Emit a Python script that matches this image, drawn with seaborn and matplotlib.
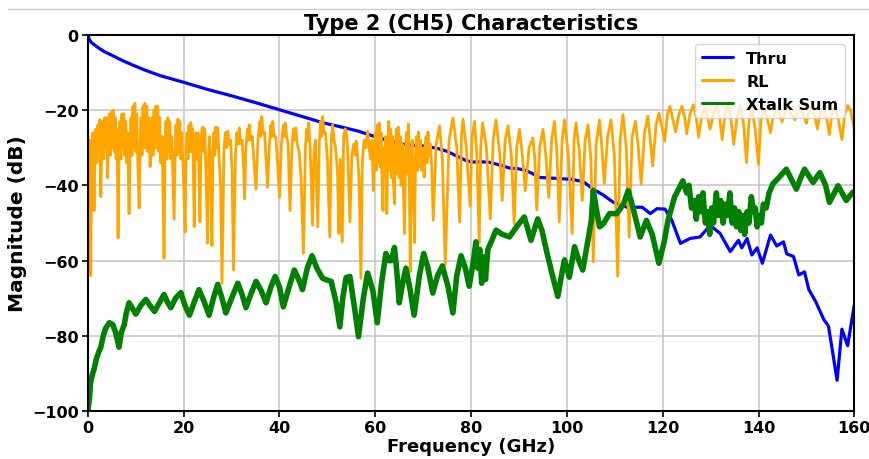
import matplotlib
matplotlib.use("Agg")
import matplotlib.pyplot as plt
import seaborn as sns
from matplotlib.lines import Line2D

# values (GHz, dB)
thru_freq = [0, 0.3, 0.7, 1.5, 2.5, 3.5, 5.0, 7.0, 9.5, 12, 15, 20, 25, 30, 35, 40, 45,
             49.2, 53.3, 56.5, 59.6, 63, 65.9, 68, 70.7, 73, 74.9, 77, 79.1, 80.5, 82,
             84, 86, 88.1, 90, 91.6, 93, 94.4, 96, 98.6, 101, 103.4, 105.5, 107.5, 109.7,
             112.5, 115.7, 117.4, 118.8, 120.5, 121.9, 123.7, 125.7, 127.8, 129.9, 132,
             134.1, 135.8, 136.5, 137.6, 138.6, 139.7, 140.8, 142.5, 143.8, 145.2, 145.9,
             147.3, 148.4, 149.6, 150.5, 151.9, 153.6, 154.6, 156.4, 157.4, 158.6, 160]
thru_db = [0, -1.2, -2, -2.8, -3.7, -4.5, -5.4, -6.7, -8.1, -9.4, -10.8, -12.6, -14.5,
           -16.2, -18, -19.9, -21.8, -23.4, -24.6, -25.6, -26.9, -28.2, -29.1, -29.4,
           -29.6, -30.2, -30.9, -32.2, -33.5, -33.8, -33.7, -33.9, -34.6, -35.4, -35.6,
           -36.1, -37, -37.9, -38, -38.2, -38.4, -39, -41, -42.5, -44.5, -45.8, -45.8,
           -47.5, -46.2, -46.3, -49.3, -55.4, -54.1, -53.7, -50.6, -52.8, -57.6, -54.6,
           -56.6, -54.1, -58.5, -56.6, -60.7, -53.2, -56.1, -55, -58.2, -58.9, -63.8,
           -63, -67.7, -70.8, -75.6, -77.4, -91.8, -78.2, -82.6, -71.7]

# RL, 0-28 GHz (dense ripple)
rl_freq_a = [0.0, 0.2, 0.4, 0.6, 0.8, 1.0, 1.3, 1.5, 1.7, 1.9, 2.1, 2.3, 2.5, 2.7, 2.9,
             3.1, 3.3, 3.5, 3.7, 3.9, 4.1, 4.3, 4.5, 4.7, 4.9, 5.1, 5.3, 5.5, 5.7, 5.9,
             6.1, 6.3, 6.5, 6.7, 6.9, 7.1, 7.3, 7.5, 7.7, 7.9, 8.1, 8.3, 8.6, 8.8, 9.0,
             9.2, 9.4, 9.6, 9.8, 10.0, 10.2, 10.4, 10.7, 10.9, 11.1, 11.3, 11.5, 11.7,
             11.9, 12.1, 12.3, 12.5, 12.7, 13.0, 13.2, 13.4, 13.6, 13.8, 14.0, 14.2,
             14.4, 14.6, 14.8, 15.0, 15.2, 15.5, 15.9, 16.1, 16.3, 16.5, 16.7, 16.9,
             17.1, 17.3, 17.5, 17.7, 18.0, 18.2, 18.4, 18.6, 18.8, 19.0, 19.2, 19.4,
             19.6, 19.9, 20.3, 20.5, 20.7, 20.9, 21.1, 21.3, 21.5, 21.7, 21.9, 22.2,
             22.4, 22.6, 22.8, 23.0, 23.4, 23.6, 23.8, 24.0, 24.2, 24.4, 24.6, 25.0,
             25.2, 25.4, 25.6, 25.9, 26.1, 26.3, 26.5, 26.7, 26.9, 27.1, 27.4, 27.7]
rl_db_a = [-25, -36, -28, -64, -33, -26, -46.7, -30, -25, -34, -24, -31, -22.5, -43, -30,
           -23, -33, -22, -30, -22, -38, -28, -21, -32, -20.5, -30, -20, -31, -22, -33,
           -25, -54, -30, -23, -33, -21, -30, -21, -32, -23, -34, -26, -47.5, -31, -22,
           -32, -19, -30, -18.2, -31, -21, -33, -46, -30, -22, -32, -19, -30,
           -18.2, -30, -19, -31, -22, -35, -28, -22, -32, -20, -30, -19,
           -30, -19, -31, -22, -34, -27, -59.4, -30, -23, -33, -22, -31,
           -23, -33, -27, -36, -49, -31, -24, -32, -22.4, -31, -23, -33,
           -26, -36, -52.4, -32, -26, -33, -24, -31, -23.3, -31, -25, -51,
           -31, -26, -33, -26, -49.7, -30, -25, -24.5, -31, -25, -34, -55.4,
           -32, -27, -34, -56, -31, -26, -32, -24.5, -30, -24.7, -33, -40]

# RL, 28-59 GHz
rl_freq_b = [28.0, 28.4, 28.7, 29.0, 29.2, 29.5, 29.8, 30.1, 30.4, 30.8, 31.1, 31.4, 31.6,
             31.9, 32.2, 32.5, 32.7, 33.0, 33.3, 33.5, 33.7, 34.0, 34.3, 34.7, 35.1, 35.5,
             35.9, 36.1, 36.3, 36.6, 36.9, 37.2, 37.5, 37.9, 38.2, 38.4, 38.6, 38.9, 39.2,
             39.6, 40.0, 40.4, 40.8, 41.0, 41.2, 41.5, 41.8, 42.2, 42.6, 42.9, 43.1, 43.4,
             43.7, 44.1, 44.5, 45.0, 45.4, 45.7, 45.9, 46.1, 46.4, 46.9, 47.2, 47.5, 48.0,
             48.3, 48.6, 48.8, 49.0, 49.3, 49.6, 50.0, 50.5, 50.8, 51.1, 51.4, 51.7, 52.1,
             52.4, 52.7, 53.1, 53.4, 53.7, 53.9, 54.2, 54.7, 55.1, 55.5, 55.8, 56.0, 56.3,
             56.6, 57.0, 57.3, 57.7, 58.0, 58.4, 58.7]
rl_db_b = [-66, -31, -26, -30, -25.6, -29, -28, -36, -62.5, -32, -26, -29, -24.7,
           -29, -28, -35, -43.6, -30, -25, -28, -23.9, -28, -27, -34, -41, -28,
           -23, -27, -21.7, -26, -26, -33, -40.5, -29, -24, -27, -23, -27, -27,
           -34, -43.2, -29, -24, -27, -23.4, -27, -29, -46.7, -30, -25, -28, -24.7,
           -29, -31, -38, -58.1, -30, -25, -28, -23.4, -30, -50.6, -31, -28, -51,
           -29, -23, -27, -21.7, -26, -26, -33, -53.7, -28, -23.9, -28, -30, -36,
           -52.8, -33, -55, -27, -25, -25.3, -30, -49.7, -32, -29, -32, -28.2, -32,
           -38, -64.7, -33, -28, -30, -25.6, -30]

# RL, 59-72 GHz (dense ripple)
rl_freq_c = [59.0, 59.3, 59.6, 59.8, 60.0, 60.2, 60.4, 60.6, 60.8, 61.0, 61.2, 61.4, 61.6,
             61.8, 62.0, 62.2, 62.4, 62.6, 62.8, 63.0, 63.2, 63.4, 63.6, 63.8, 64.0, 64.2,
             64.4, 64.6, 64.8, 65.0, 65.2, 65.4, 65.6, 65.9, 66.1, 66.3, 66.5, 66.7, 66.9,
             67.1, 67.3, 67.5, 67.7, 67.9, 68.2, 68.4, 68.6, 68.8, 69.0, 69.2, 69.4, 69.7,
             70.0, 70.2, 70.4, 70.6, 70.8, 71.0, 71.2, 71.5, 71.8]
rl_db_c = [-33, -28, -41.4, -30, -26, -36, -24, -34, -23.4, -35, -26, -38, -46.7,
           -30, -37, -27, -47.5, -30, -23, -36, -25, -38, -27, -40, -44.9, -30,
           -25, -37, -24.5, -38, -27, -40, -29, -42, -52.8, -31, -26, -37, -23.7,
           -38, -62.9, -33, -28, -40, -55.2, -32, -27, -36, -25.8, -35, -28, -36,
           -30, -37.8, -30, -27, -34, -25.8, -32, -29, -36]

# RL, 72-160 GHz
rl_freq_d = [72.1, 72.7, 73.4, 74.0, 74.6, 75.4, 76.2, 77.0, 77.6, 78.0, 78.3, 79.0, 79.8,
             80.2, 80.7, 81.2, 81.7, 82.0, 82.4, 83.2, 84.0, 84.6, 85.2, 86.0, 86.5, 87.1,
             87.7, 88.4, 89.0, 89.5, 90.1, 90.7, 91.3, 92.1, 92.9, 93.3, 93.7, 94.3, 95.0,
             95.6, 96.2, 96.8, 97.4, 97.9, 98.4, 99.0, 99.5, 100.3, 101.1, 101.5, 101.9,
             102.6, 103.2, 103.8, 104.4, 105.0, 105.5, 106.1, 106.8, 107.3, 107.8, 108.5,
             109.2, 109.9, 110.6, 111.1, 111.7, 112.4, 113.0, 113.6, 114.3, 114.9, 115.5,
             116.2, 116.9, 117.4, 117.9, 118.6, 119.2, 119.9, 120.4, 121.0, 121.5, 122.2,
             122.7, 123.4, 124.0, 124.6, 125.0, 125.7, 126.4, 127.0, 127.5, 128.2, 128.9,
             129.4, 129.9, 130.6, 131.3, 131.9, 132.4, 133.0, 133.7, 134.3, 134.8, 135.5,
             136.2, 136.9, 137.5, 138.0, 138.6, 139.3, 140.0, 140.5, 141.1, 141.8, 142.5,
             143.0, 143.6, 144.3, 144.9, 145.4, 145.9, 146.8, 147.6, 148.0, 148.5, 149.3,
             150.0, 150.4, 150.9, 151.6, 152.3, 152.8, 153.4, 154.2, 154.8, 155.3, 155.8,
             156.6, 157.4, 158.0, 158.6, 159.2, 160.0]
rl_db_d = [-49.3, -29, -24.2, -33, -61.1, -28, -22.1, -30, -49.7, -27, -22.4, -30, -45.6,
           -27, -23, -32, -55.4, -30, -23.4, -30, -48.9, -28, -22.6, -32, -44, -28,
           -24.2, -32, -50.2, -30, -25.1, -32, -41.4, -30, -27.4, -33, -46.5, -30, -25.1,
           -32, -43.2, -28, -23, -31, -49.7, -28, -22.6, -32, -52.8, -28, -23.4,
           -31, -44, -28, -23.9, -33, -60.3, -29, -22.6, -30, -39.5, -27,
           -22.6, -32, -64.2, -28, -21.2, -30, -53.7, -27, -23, -30, -39.6,
           -26, -21.6, -28, -34.8, -24, -20.8, -25, -28.2, -21, -19, -23,
           -25.8, -21, -19, -22, -26.3, -21, -18.6, -22, -27.2, -21, -19.5,
           -22, -25, -21, -18.2, -22, -27.8, -21, -18.5, -23, -29.1, -22,
           -18.8, -24, -33.9, -23, -19.5, -25, -34.4, -23, -19.5, -22, -26,
           -22, -19.8, -21, -23.1, -21, -19.5, -21, -22.6, -21, -18.6, -21,
           -23.5, -21, -19, -21, -25, -21, -19.5, -22, -26.5, -21, -19,
           -22, -27.8, -21, -18.8, -20, -25]

rl_freq = rl_freq_a + rl_freq_b + rl_freq_c + rl_freq_d
rl_db = rl_db_a + rl_db_b + rl_db_c + rl_db_d

xt_freq = [0.0, 0.3, 0.6, 1.0, 1.3, 1.8, 2.2, 2.7, 3.2, 3.7, 4.5, 5.2, 5.8, 6.5, 7.0,
           7.6, 8.0, 8.6, 9.2, 10.0, 11.0, 12.1, 13.0, 13.9, 15.0, 15.9, 16.6, 17.3,
           18.3, 19.4, 20.3, 21.2, 22.2, 23.2, 24.3, 25.3, 26.2, 27.1, 28.0, 28.8, 30.0,
           31.3, 32.2, 33.0, 34.0, 35.1, 36.2, 37.2, 38.2, 39.1, 40.0, 40.8, 42.0, 43.1,
           44.0, 44.8, 45.8, 46.8, 47.8, 49.0, 50.0, 50.8, 51.8, 52.6, 53.2, 53.9, 54.7,
           55.6, 56.5, 57.5, 58.4, 59.5, 60.4, 61.3, 62.2, 62.8, 63.3, 64.0, 64.5, 65.0,
           65.7, 66.4, 67.3, 68.1, 69.2, 70.1, 71.0, 72.0, 73.0, 74.0, 75.2, 76.2, 77.0,
           77.9, 78.8, 79.6, 80.5, 81.0, 81.4, 81.8, 82.2, 82.6, 83.0, 83.5, 84.2, 85.2,
           86.5, 88.0, 89.5, 91.1, 92.5, 93.9, 94.8, 95.7, 96.8, 98.1, 99.0, 99.5, 100.5,
           101.6, 102.5, 103.3, 104.2, 105.1, 105.5, 106.1, 106.8, 107.6, 108.9, 110.4,
           111.8, 112.8, 113.8, 115.3, 116.6, 117.8, 119.2, 120.3, 121.1, 122.5, 124.2,
           125.0, 125.5, 126.0, 126.6, 127.0, 127.5, 128.0, 128.4, 128.9, 129.4, 129.8,
           130.2, 130.6, 131.2, 131.6, 132.1, 132.6, 133.1, 133.6, 134.0, 134.5, 135.0,
           135.4, 135.9, 136.3, 136.8, 137.1, 137.6, 138.0, 138.5, 138.9, 139.3, 139.7,
           140.2, 140.6, 141.0, 141.6, 142.2, 143.0, 144.2, 145.8, 146.9, 147.9, 148.8,
           149.6, 150.5, 151.4, 152.8, 154.0, 154.8, 156.6, 158.3, 159.7, 160.0]
xt_db = [-100, -97, -92, -90, -88.8, -86, -84.5, -83, -80, -78, -76.5, -77, -79.1, -83,
         -79, -77, -74, -71.2, -72.5, -74.2, -72, -70.3, -72, -73.5, -71, -69, -71,
         -72.5, -70, -68.5, -72, -74.5, -71, -67.7, -71, -74.5, -70, -66.3, -70, -73.9,
         -70, -66, -69, -72.5, -69, -65.5, -68, -71.2, -67, -64.2, -67, -72.3, -67,
         -62.5, -65, -67.7, -62, -58.7, -62, -64.7, -65.2, -65.5, -71, -77.6, -70,
         -64.5, -64.2, -72, -80.2, -70, -63.3, -68, -76.5, -66, -58.1, -60, -60,
         -56.5, -63, -71.2, -66, -62, -68, -74.5, -64, -58.1, -62, -68.6, -64, -61.4,
         -67, -73.9, -64, -58.7, -62, -66.8, -60, -55, -62, -57, -66, -59, -65, -57,
         -55, -51.9, -53, -53.7, -51, -48.4, -54.6, -48.9, -52, -57.2, -63, -69.5,
         -63, -59.8, -64.4, -56.3, -60, -62.5, -56, -49.3, -41.4, -46, -51, -50.2,
         -47.5, -47.5, -45, -41.4, -46, -53.7, -49.3, -53, -60.7, -55, -49.3, -43,
         -38.8, -42, -40, -46, -44, -49, -43, -47, -42, -50, -47, -53, -46, -50, -42,
         -48, -44, -50, -45, -48, -42, -50, -46, -51, -47, -52, -48, -53, -47, -50,
         -43, -47, -46, -51, -48, -50, -45, -46, -42, -39.6, -38, -35.7, -38.5, -41,
         -38, -35.7, -37.5, -39.2, -36.6, -40, -44.5, -40.1, -44, -41.8, -42]

series_labels = ["Thru", "RL", "Xtalk Sum"]
series_colors = ["blue", "orange", "green"]

sns.set_style("whitegrid", {"axes.edgecolor": "black", "grid.color": "#c4c4c4",
                            "xtick.bottom": True, "ytick.left": True,
                            "text.color": "black", "axes.labelcolor": "black",
                            "xtick.color": "black", "ytick.color": "black"})
plt.rcParams["font.family"] = ["DejaVu Sans"]
plt.rcParams["font.weight"] = "bold"

fig = plt.figure(figsize=(8.7, 4.6), dpi=100)
ax = fig.add_axes([0.101, 0.104, 0.881, 0.818])

sns.lineplot(x=thru_freq, y=thru_db, color=series_colors[0], lw=2.3,
             label=series_labels[0], estimator=None, sort=False, ax=ax)
sns.lineplot(x=rl_freq, y=rl_db, color=series_colors[1], lw=2.0,
             label=series_labels[1], estimator=None, sort=False, ax=ax)
sns.lineplot(x=xt_freq, y=xt_db, color=series_colors[2], lw=4.0,
             label=series_labels[2], estimator=None, sort=False, ax=ax)

ax.set_xlim(0, 160)
ax.set_ylim(-100, 0)
ax.set_xticks(range(0, 161, 20))
ax.set_yticks(range(-100, 1, 20))
ax.tick_params(labelsize=11.5, length=4, width=1.2, color="black", pad=2.5)
for lab in ax.get_xticklabels() + ax.get_yticklabels():
    lab.set_fontweight("bold")
for sp in ax.spines.values():
    sp.set_linewidth(1.5)
    sp.set_color("black")
ax.grid(True, lw=1.1)

ax.set_title("Type 2 (CH5) Characteristics", fontsize=15, fontweight="bold", pad=4)
ax.set_xlabel("Frequency (GHz)", fontsize=13, fontweight="bold")
ax.xaxis.set_label_coords(0.5, -0.07)
ax.set_ylabel("Magnitude (dB)", fontsize=14.5, fontweight="bold")

leg = ax.legend(loc="upper right", prop={"weight": "bold", "size": 11.5},
                framealpha=0.8, borderaxespad=0.6)
for h in leg.get_lines():
    h.set_linewidth(2.2)

# thin rule along the top of the picture
fig.add_artist(Line2D([0.009, 1.0], [0.979, 0.979], color="#cccccc", lw=1,
                      transform=fig.transFigure))

fig.savefig("out.png", dpi=100)
